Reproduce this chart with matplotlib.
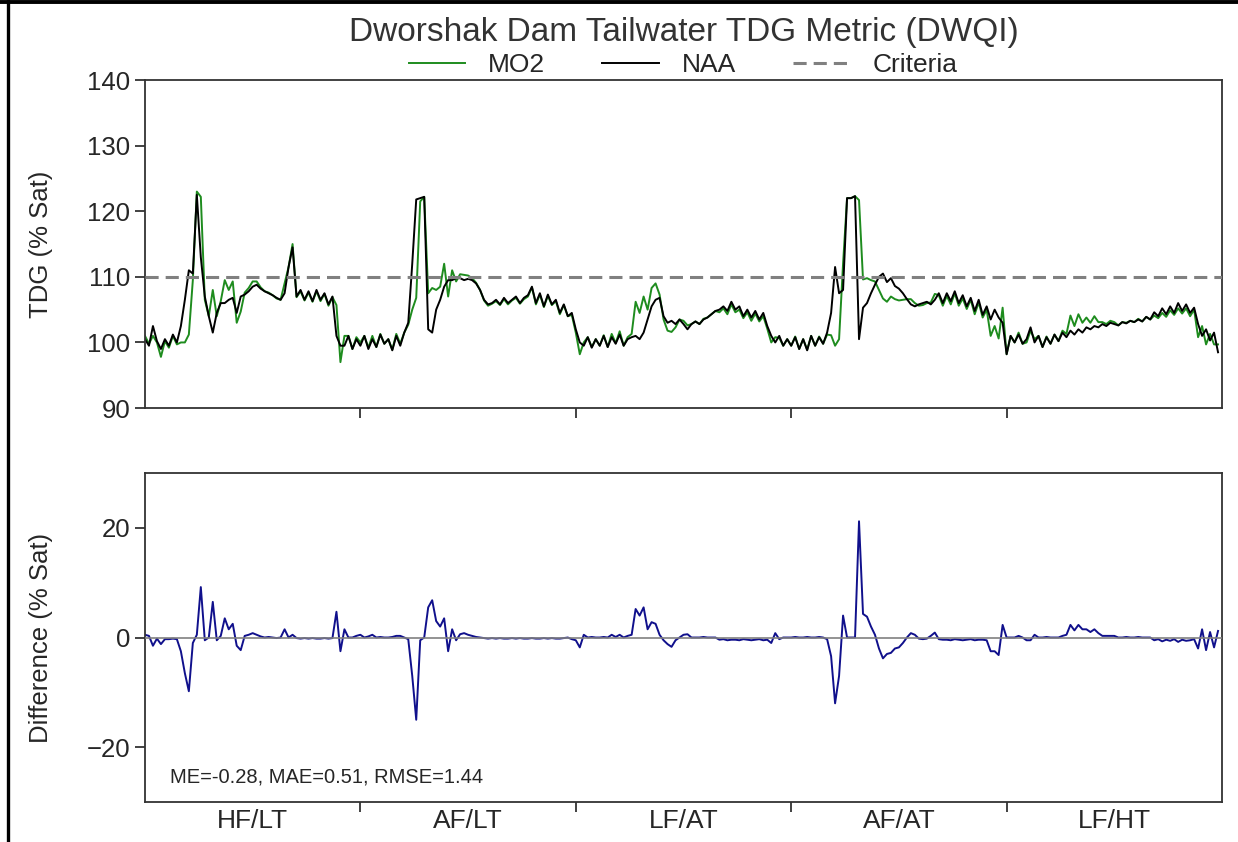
import numpy as np
import matplotlib.pyplot as plt
from matplotlib.lines import Line2D

plt.rcParams['font.family'] = ['Liberation Sans', 'DejaVu Sans']

# scenario blocks along the x axis
scenarios = ['HF/LT', 'AF/LT', 'LF/AT', 'AF/AT', 'LF/HT']

# NAA tailwater TDG (% sat), one block per scenario
naa_hf_lt = [100.5, 99.5, 102.5, 100.2, 99.0, 100.5, 99.5, 101.2, 100.0, 102.5,
             106.5, 111.0, 110.5, 122.5, 113.0, 107.0, 104.0, 101.5, 104.5, 106.0,
             106.0, 106.5, 106.8, 104.5, 107.0, 107.3, 107.8, 108.5, 108.8, 108.2,
             107.8, 107.5, 107.2, 106.8, 106.5, 107.5, 111.5, 114.5, 107.0, 108.0,
             106.5, 107.8, 106.3, 108.0, 106.5, 107.5, 105.8, 107.0, 101.0, 99.5,
             99.5, 101.0, 99.0, 100.5]
naa_af_lt = [99.5, 101.0, 99.0, 100.5, 99.3, 101.2, 99.8, 100.5, 98.8, 101.0,
             99.5, 101.5, 103.0, 112.0, 121.8, 122.0, 122.2, 102.0, 101.5, 105.0,
             106.5, 108.5, 109.5, 109.5, 109.8, 109.8, 109.5, 109.7, 109.5, 109.0,
             108.0, 106.5, 105.8, 106.0, 106.5, 105.8, 106.8, 106.0, 106.5, 107.0,
             106.0, 106.8, 107.2, 108.5, 106.0, 107.5, 105.5, 107.3, 105.8, 106.5,
             104.5, 105.8, 104.0, 104.5]
naa_lf_at = [102.0, 100.0, 99.5, 100.8, 99.2, 100.5, 99.5, 101.0, 99.3, 100.8,
             99.8, 101.2, 99.5, 100.5, 100.8, 101.0, 100.5, 101.5, 103.5, 105.5,
             106.5, 106.8, 104.0, 103.0, 103.3, 102.8, 103.5, 102.8, 102.0, 102.8,
             103.2, 102.8, 103.5, 103.8, 104.3, 104.8, 105.0, 105.5, 104.8, 106.2,
             105.0, 105.5, 104.0, 105.0, 103.8, 104.8, 103.5, 104.5, 102.5, 101.0,
             100.0, 101.0, 99.5, 100.5]
naa_af_at = [99.5, 100.8, 99.0, 100.5, 98.8, 101.0, 99.5, 100.8, 99.8, 101.5,
             104.5, 111.5, 107.5, 108.0, 122.0, 122.0, 122.3, 100.5, 105.3, 106.0,
             107.5, 108.8, 110.0, 110.5, 109.2, 109.8, 108.6, 108.2, 107.5, 106.6,
             105.8, 105.5, 105.8, 106.0, 106.2, 105.8, 106.5, 107.5, 106.0, 107.5,
             106.3, 107.8, 106.0, 107.2, 105.5, 106.8, 104.8, 106.5, 104.2, 105.5,
             103.5, 105.0, 103.8, 103.0]
naa_lf_ht = [98.2, 101.0, 100.0, 101.2, 99.8, 100.5, 102.3, 100.0, 101.0, 99.3,
             100.8, 99.8, 101.2, 100.2, 101.5, 100.8, 101.8, 101.2, 102.0, 101.5,
             102.3, 102.0, 102.5, 102.3, 102.8, 102.5, 103.0, 102.8, 102.6, 103.1,
             102.9, 103.3, 103.1, 103.5, 103.2, 103.9, 103.5, 104.6, 104.0, 105.2,
             104.3, 105.5, 104.5, 106.0, 104.8, 105.8, 104.5, 105.3, 102.8, 101.0,
             102.0, 100.3, 101.5, 98.5]

# MO2 minus NAA (% sat)
diff_hf_lt = [0.5, 0.3, -1.5, -0.2, -1.2, -0.3, -0.3, -0.2, -0.3, -2.5,
              -6.5, -9.8, -1.0, 0.5, 9.2, -0.5, 0.0, 6.5, -0.5, 0.3,
              3.5, 1.5, 2.5, -1.5, -2.3, 0.3, 0.5, 0.8, 0.5, 0.2,
              0.0, 0.1, 0.0, -0.1, 0.0, 1.5, 0.0, 0.5, -0.1, -0.2,
              -0.1, -0.2, -0.1, -0.2, -0.2, -0.1, -0.2, -0.1, 4.7, -2.5,
              1.5, 0.0, 0.0, 0.3]
diff_af_lt = [0.5, 0.0, 0.2, 0.5, 0.0, 0.1, 0.0, 0.0, 0.1, 0.3,
              0.3, 0.0, -0.3, -7.0, -15.0, -0.5, 0.0, 5.5, 6.8, 3.0,
              2.0, 3.5, -2.5, 1.5, -0.5, 0.6, 0.8, 0.5, 0.3, 0.1,
              0.0, -0.1, -0.2, -0.1, -0.2, -0.1, -0.2, -0.2, -0.1, -0.2,
              -0.1, -0.2, -0.2, -0.1, -0.2, -0.2, -0.1, -0.2, -0.1, -0.2,
              -0.2, -0.1, 0.0, -0.3]
diff_lf_at = [-0.5, -1.8, 0.5, 0.0, 0.1, 0.0, 0.0, 0.1, 0.0, 0.5,
              0.1, 0.5, 0.0, 0.3, 0.5, 5.2, 4.0, 5.5, 1.5, 2.8,
              2.5, 0.5, -0.5, -1.2, -1.7, -0.5, 0.0, 0.5, 0.6, 0.0,
              0.0, 0.0, 0.1, 0.0, 0.0, 0.0, -0.4, -0.3, -0.5, -0.4,
              -0.4, -0.5, -0.3, -0.4, -0.5, -0.4, -0.3, -0.5, -0.4, -1.0,
              0.8, -0.3, 0.0, 0.0]
diff_af_at = [0.0, 0.1, 0.0, 0.0, 0.1, 0.0, 0.0, 0.1, 0.0, -0.3,
              -3.4, -12.0, -7.0, 4.0, 0.0, 0.0, 0.0, 21.2, 4.3, 3.8,
              2.0, 0.5, -2.0, -3.8, -3.0, -2.8, -2.0, -1.8, -1.0, 0.0,
              0.8, 0.5, -0.2, -0.3, -0.2, 0.3, 0.9, -0.3, -0.4, -0.4,
              -0.5, -0.3, -0.4, -0.5, -0.4, -0.3, -0.5, -0.4, -0.4, -0.5,
              -2.5, -2.5, -3.2, 2.3]
diff_lf_ht = [0.0, 0.0, 0.0, 0.3, 0.0, -0.5, -0.5, 0.5, 0.0, 0.0,
              0.1, 0.0, 0.0, 0.0, 0.3, 0.5, 2.3, 1.3, 2.3, 1.5,
              1.5, 1.0, 1.5, 0.8, 0.3, 0.3, 0.3, 0.3, 0.0, 0.0,
              0.1, 0.0, 0.0, 0.1, 0.0, 0.0, 0.0, -0.5, -0.3, -0.7,
              -0.4, -0.6, -0.3, -0.8, -0.4, -0.6, -0.5, -0.3, -2.0, 1.5,
              -2.3, 1.0, -1.8, 1.2]

criteria = 110
stats_text = 'ME=-0.28, MAE=0.51, RMSE=1.44'

naa = np.concatenate([naa_hf_lt, naa_af_lt, naa_lf_at, naa_af_at, naa_lf_ht])
diff = np.concatenate([diff_hf_lt, diff_af_lt, diff_lf_at, diff_af_at, diff_lf_ht])
mo2 = naa + diff
n_per = len(naa_hf_lt)
x = np.arange(len(naa)) / n_per

text_col = '#262626'
fig = plt.figure(figsize=(12.38, 8.42), dpi=100)
ax1 = fig.add_axes([0.1171, 0.5154, 0.870, 0.3895])
ax2 = fig.add_axes([0.1171, 0.0475, 0.870, 0.3907])

# top panel: TDG
ax1.plot(x, mo2, color='#1e8c1e', lw=1.4, label='MO2')
ax1.plot(x, naa, color='black', lw=1.4, label='NAA')
ax1.axhline(criteria, color='#808080', lw=2.2, ls=(0, (4.3, 2.3)), label='Criteria', zorder=3)
ax1.set_xlim(0, 5)
ax1.set_ylim(90, 140)
ax1.set_yticks(range(90, 141, 10))
ax1.set_xticks([1, 2, 3, 4])
ax1.set_xticklabels([])
ax1.set_ylabel('TDG (% Sat)', fontsize=18.5, color=text_col)
ax1.yaxis.set_label_coords(-0.0855, 0.5)

# bottom panel: difference
ax2.axhline(0, color='#808080', lw=1.2, zorder=3)
ax2.plot(x, diff, color='#10108c', lw=1.4)
ax2.set_xlim(0, 5)
ax2.set_ylim(-30, 30)
ax2.set_yticks([-20, 0, 20])
ax2.set_xticks([1, 2, 3, 4])
ax2.set_xticklabels([])
ax2.set_xticks(np.arange(5) + 0.5, minor=True)
ax2.set_xticklabels(scenarios, minor=True)
ax2.tick_params(axis='x', which='minor', length=0, pad=5, labelsize=19, labelcolor=text_col)
ax2.set_ylabel('Difference (% Sat)', fontsize=18.5, color=text_col)
ax2.yaxis.set_label_coords(-0.0855, 0.5)
ax2.text(0.0232, 0.058, stats_text, transform=ax2.transAxes, fontsize=14.5,
         color=text_col, va='baseline')

for ax in (ax1, ax2):
    ax.tick_params(axis='both', which='major', direction='out', length=7, width=1.3,
                   color='#333333', labelsize=18.5, labelcolor=text_col)
    for sp in ax.spines.values():
        sp.set_color('#333333')
        sp.set_linewidth(1.3)

fig.text(0.552, 0.961, 'Dworshak Dam Tailwater TDG Metric (DWQI)', ha='center',
         va='center', fontsize=24, color='#333333')
fig.legend(handles=ax1.get_lines()[:3], loc='center', bbox_to_anchor=(0.552, 0.923),
           ncol=3, frameon=False, fontsize=19, handlelength=2.15, handletextpad=0.87,
           columnspacing=2.16, labelcolor=text_col)

# border left over from the original screenshot
fig.add_artist(Line2D([0.0068, 0.0068], [0, 1], color='black', lw=2.4))
fig.add_artist(Line2D([0, 1], [0.9978, 0.9978], color='black', lw=2.8))

fig.savefig('out.png', dpi=100)
